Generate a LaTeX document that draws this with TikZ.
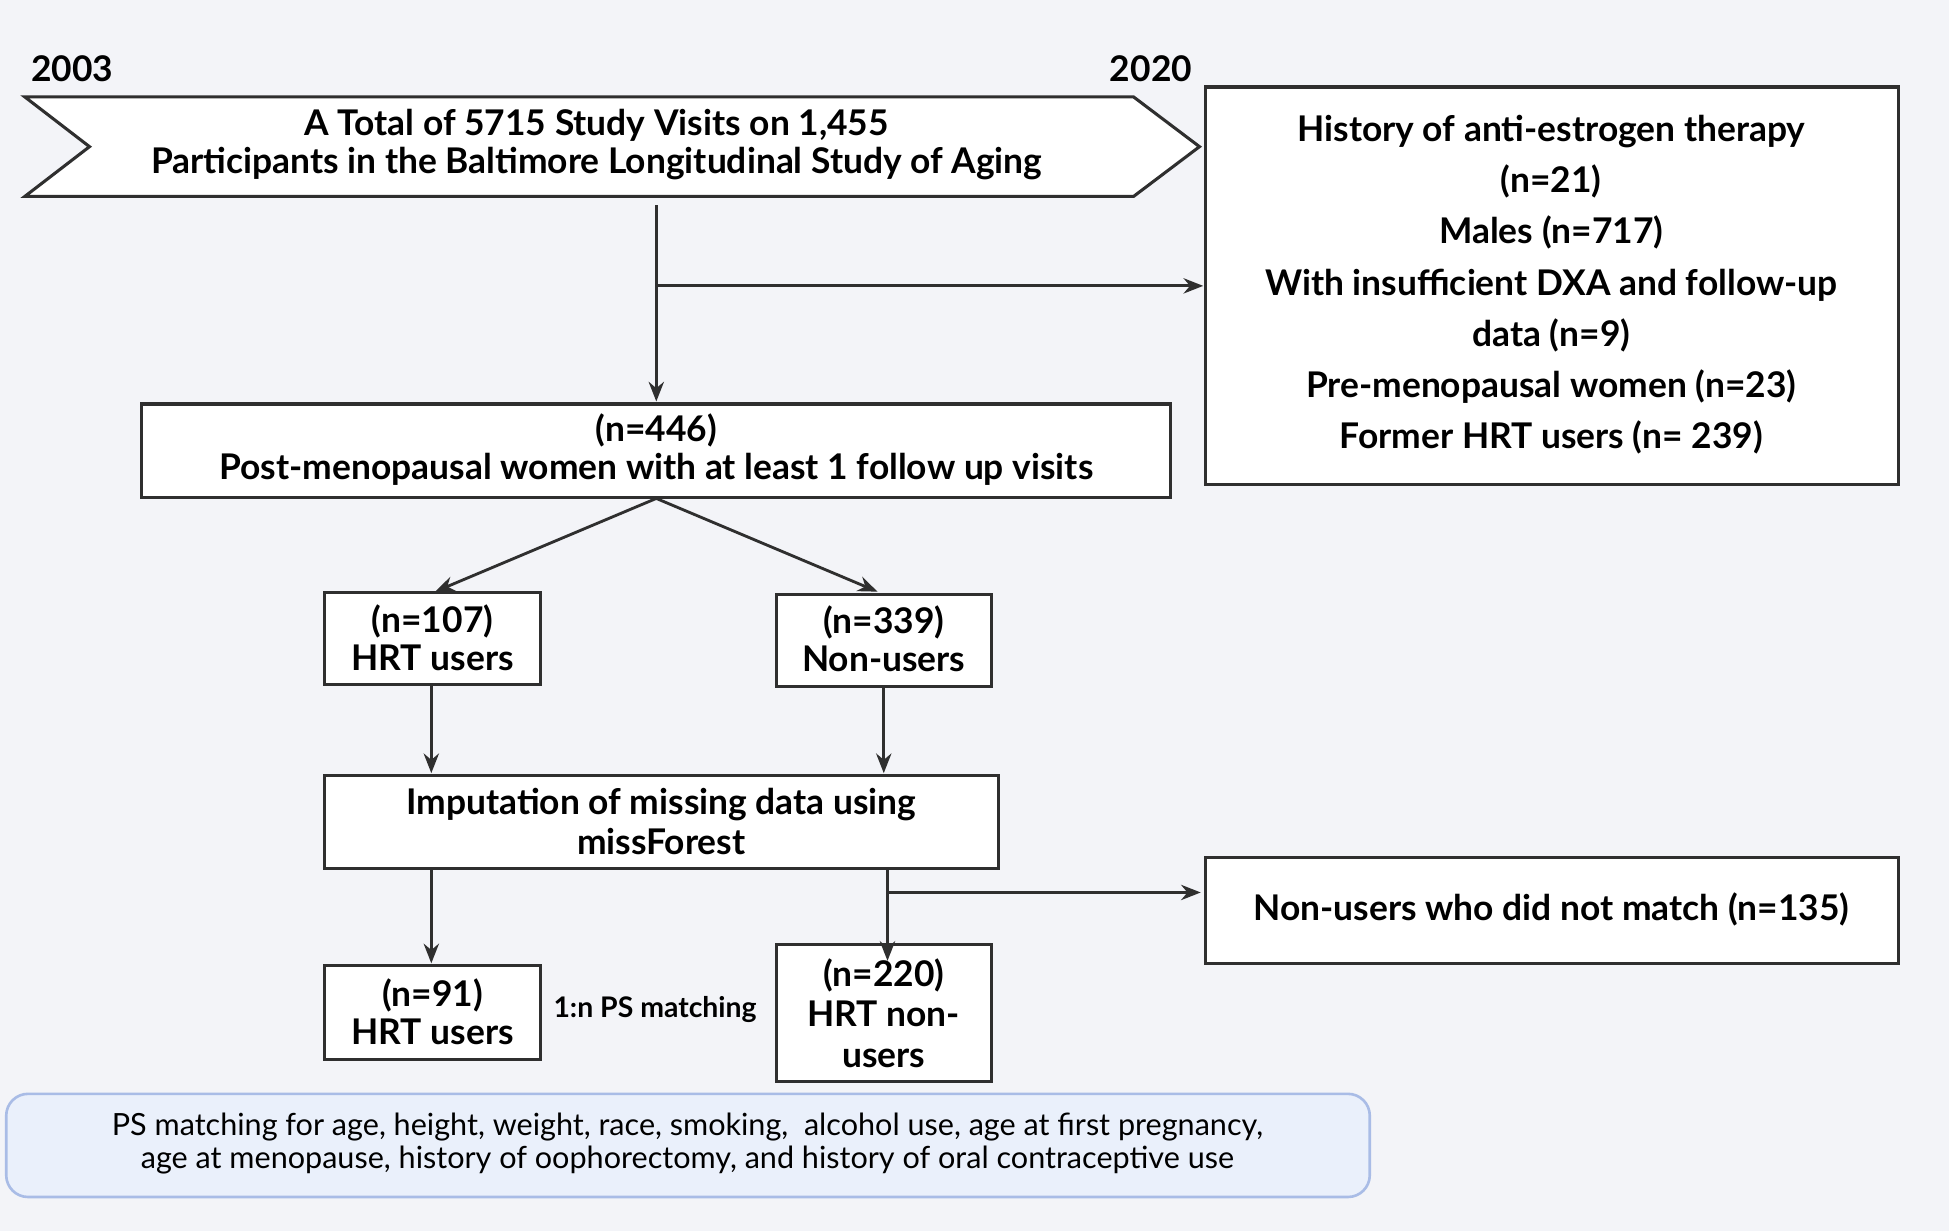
\documentclass[tikz,border=0pt]{standalone}
\usepackage{fontspec}
\setmainfont{Lato}
\usetikzlibrary{arrows.meta}
\definecolor{bg}{HTML}{F3F4F8}
\definecolor{ln}{HTML}{2F2F2F}
\definecolor{nb}{HTML}{EAF0FB}
\definecolor{nbd}{HTML}{A9BCE6}
\tikzset{
  bx/.style={draw=ln,line width=1.4pt,fill=white},
  tx/.style={font=\bfseries\fontsize{16.2}{17.5}\selectfont,align=center,text=black},
  ar/.style={draw=ln,line width=1.3pt,-{Stealth[length=9pt,width=7pt]}},
}
\begin{document}
\begin{tikzpicture}[x=0.02cm,y=-0.02cm]
\fill[bg] (0,0) rectangle (1568,990);
\useasboundingbox (0,0) rectangle (1568,990);
\node[tx] (y1) at (58,55) {2003};
\node[tx] (y2) at (926,55) {2020};
\draw[bx] (20,78) -- (912,78) -- (965,118) -- (912,158) -- (20,158) -- (72,118) -- cycle;
\node[tx] (top) at (480,116) {A Total of 5715 Study Visits on 1,455\\Participants in the Baltimore Longitudinal Study of Aging};
\draw[bx] (970,70) rectangle (1527,390);
\node[tx,font=\bfseries\fontsize{16.2}{23.5}\selectfont] (excl) at (1248,229) {History of anti-estrogen therapy\\(n=21)\\Males (n=717)\\With insufficient DXA and follow-up\\data (n=9)\\Pre-menopausal women (n=23)\\Former HRT users (n= 239)};
\coordinate (excl-in) at (968,230);
\coordinate (s1) at (528,165);
\coordinate (b1) at (528,230);
\draw[bx] (114,325) rectangle (942,400);
\node[tx] (pm) at (528,362) {(n=446)\\Post-menopausal women with at least 1 follow up visits};
\coordinate (pm-top) at (528,323);
\coordinate (pm-bot) at (528,401);
\draw[ar] (s1) -- (pm-top);
\draw[ar] (b1) -- (excl-in);
\draw[bx] (261,477) rectangle (435,551);
\node[tx] (hrt) at (348,513) {(n=107)\\HRT users};
\draw[bx] (625,478) rectangle (798,552);
\node[tx] (non) at (711,514) {(n=339)\\Non-users};
\draw[ar] (pm-bot) -- (350,476);
\draw[ar] (pm-bot) -- (706,476);
\draw[bx] (261,624) rectangle (803,699);
\node[tx,font=\bfseries\fontsize{16.2}{18}\selectfont] (imp) at (532,661) {Imputation of missing data using\\missForest};
\draw[ar] (347,552) -- (347,622);
\draw[ar] (711,553) -- (711,622);
\draw[bx] (970,690) rectangle (1527,775);
\node[tx] (nm) at (1248,732) {Non-users who did not match (n=135)};
\draw[bx] (261,777) rectangle (435,852);
\node[tx] (h91) at (348,814) {(n=91)\\HRT users};
\draw[bx] (625,760) rectangle (798,870);
\node[tx,font=\bfseries\fontsize{16.2}{18.5}\selectfont] (h220) at (711,815) {(n=220)\\HRT non-\\users};
\node[font=\bfseries\fontsize{13}{15}\selectfont] (ps) at (527,812) {1:n PS matching};
\draw[ar] (347,700) -- (347,775);
\draw[ar] (714,700) -- (714,773);
\draw[ar] (714,718) -- (966,718);
\draw[draw=nbd,fill=nb,line width=1.2pt,rounded corners=10pt] (5,880) rectangle (1102,963);
\node[font=\fontsize{14}{15.5}\selectfont,align=center] (note) at (553,920) {PS matching for age, height, weight, race, smoking,\ \ alcohol use, age at first pregnancy,\\age at menopause, history of oophorectomy, and history of oral contraceptive use};
\end{tikzpicture}
\end{document}
